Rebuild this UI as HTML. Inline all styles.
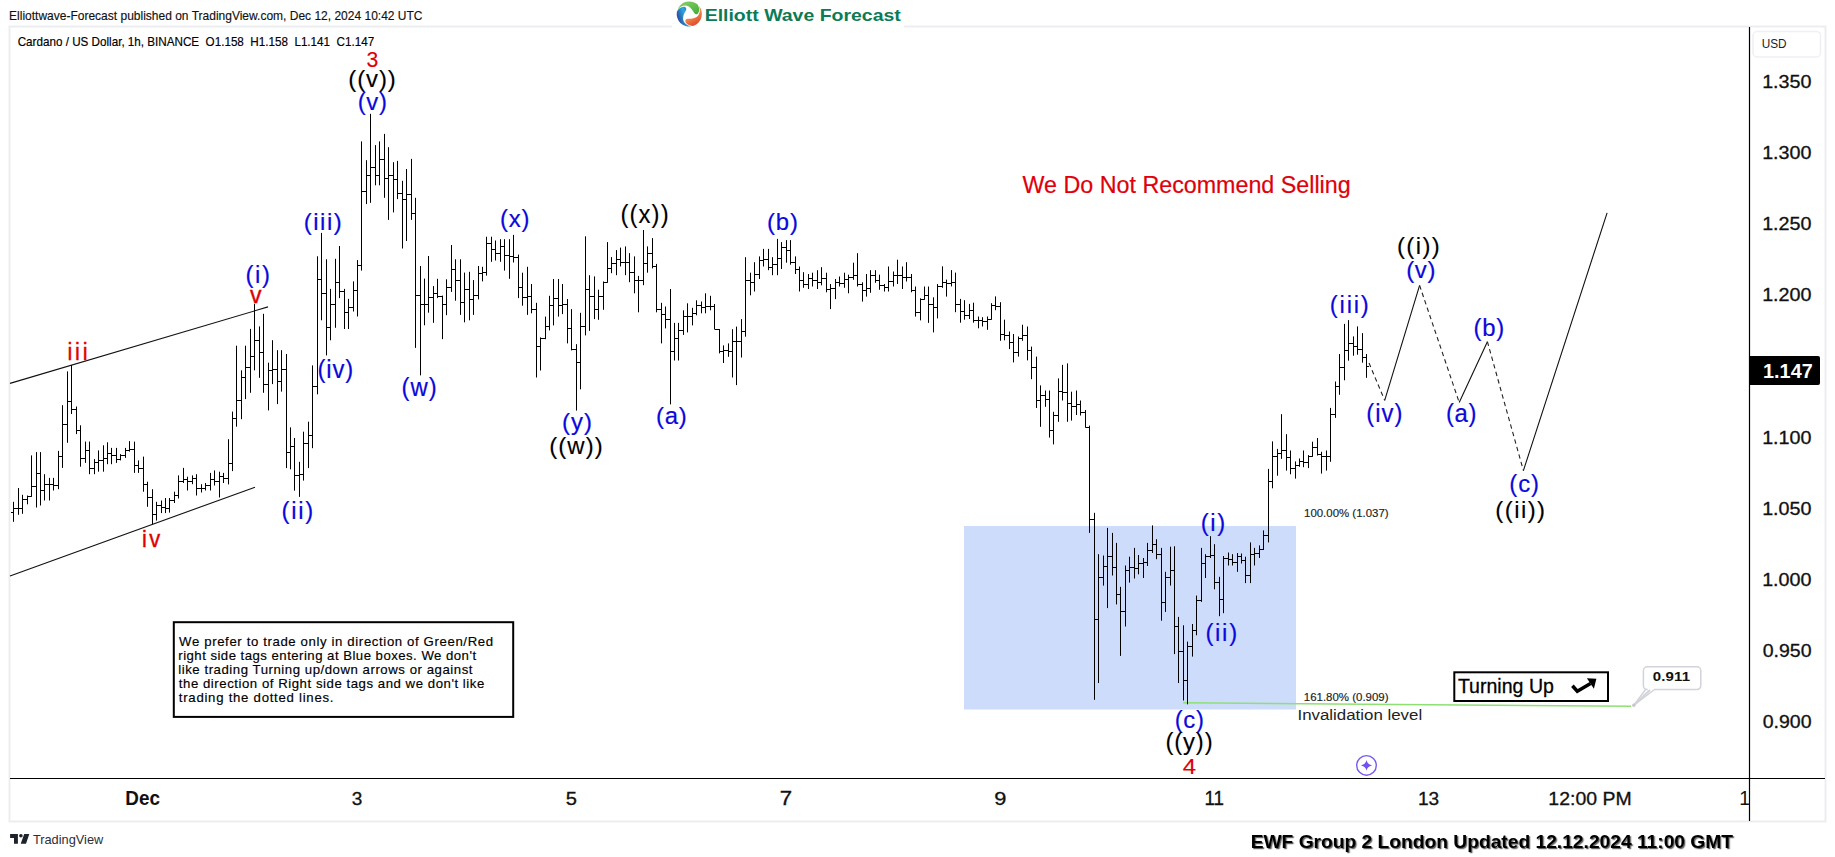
<!DOCTYPE html>
<html lang="en"><head><meta charset="utf-8"><title>ADAUSD 1h Elliott Wave chart</title>
<style>html,body{margin:0;padding:0;background:#fff}body{width:1835px;height:857px;overflow:hidden}svg{display:block}text{font-family:"Liberation Sans", "DejaVu Sans", sans-serif}</style></head><body>
<svg width="1835" height="857" viewBox="0 0 1835 857">
<defs><filter id="sh" x="-5%" y="-30%" width="110%" height="180%"><feDropShadow dx="1.2" dy="1.2" stdDeviation="0.7" flood-color="#000" flood-opacity="0.6"/></filter><linearGradient id="gG" x1="0" y1="0" x2="1" y2="1"><stop offset="0" stop-color="#8fd36a"/><stop offset="1" stop-color="#3fae3a"/></linearGradient><linearGradient id="gO" x1="1" y1="0" x2="0" y2="1"><stop offset="0" stop-color="#d9351f"/><stop offset="0.6" stop-color="#f58a4e"/><stop offset="1" stop-color="#f23c17"/></linearGradient><linearGradient id="gB" x1="0" y1="1" x2="0.3" y2="0"><stop offset="0" stop-color="#2b6cb4"/><stop offset="0.5" stop-color="#2fa5de"/><stop offset="1" stop-color="#2a57a8"/></linearGradient></defs>
<rect width="1835" height="857" fill="#fff"/>
<rect x="9.5" y="26.5" width="1816" height="795" fill="none" stroke="#ebecef" stroke-width="1.8"/>
<rect x="672" y="0" width="232" height="30" fill="#fff"/>
<g transform="translate(689.3 14)"><path d="M-11.84 -4.31A12.6 12.6 0 0 1 8.1 -9.65C9.3 -8 9.9 -6 9.8 -4C9.7 -2.2 9.2 -1 8.4 -0.3C7.3 0.6 5.8 0.4 4.9 -1C3.5 -3.5 2 -6 -1 -7.8C-4 -9.3 -8.5 -8.3 -11.84 -4.31Z" fill="url(#gG)"/><path d="M-11.84 -4.31A12.6 12.6 0 0 1 8.1 -9.65C9.3 -8 9.9 -6 9.8 -4C9.7 -2.2 9.2 -1 8.4 -0.3C7.3 0.6 5.8 0.4 4.9 -1C3.5 -3.5 2 -6 -1 -7.8C-4 -9.3 -8.5 -8.3 -11.84 -4.31Z" fill="url(#gO)" transform="rotate(120)"/><path d="M-11.84 -4.31A12.6 12.6 0 0 1 8.1 -9.65C9.3 -8 9.9 -6 9.8 -4C9.7 -2.2 9.2 -1 8.4 -0.3C7.3 0.6 5.8 0.4 4.9 -1C3.5 -3.5 2 -6 -1 -7.8C-4 -9.3 -8.5 -8.3 -11.84 -4.31Z" fill="url(#gB)" transform="rotate(240)"/></g>
<rect x="964" y="526" width="332" height="183.5" fill="#cddcfb"/>
<path d="M1183 702.8L1631 706.3" stroke="#8ee073" stroke-width="1.5" fill="none"/>
<path d="M10 778.5H1825M1749.5 27V821" stroke="#000" stroke-width="1.2" fill="none"/>
<path d="M10 383.4L268 306.9M10 576L255 487.2" stroke="#111" stroke-width="1.1" fill="none"/>
<path d="M13.5 501.8V521.8M13.5 508.5h2.5M13.5 512.5h-2.5M18.5 488.0V514.8M18.5 508.5h2.5M18.5 508.5h-2.5M22.5 494.8V513.8M22.5 499.5h2.5M22.5 508.5h-2.5M27.5 495.5V504.3M27.5 496.5h2.5M27.5 499.5h-2.5M31.5 455.4V496.8M31.5 486.5h2.5M31.5 496.5h-2.5M36.5 452.1V507.5M36.5 473.5h2.5M36.5 486.5h-2.5M40.5 452.1V505.5M40.5 490.5h2.5M40.5 473.5h-2.5M44.5 474.2V500.5M44.5 484.5h2.5M44.5 490.5h-2.5M49.5 477.9V500.5M49.5 484.5h2.5M49.5 484.5h-2.5M53.5 477.9V490.5M53.5 485.5h2.5M53.5 484.5h-2.5M58.5 450.9V489.2M58.5 456.5h2.5M58.5 485.5h-2.5M62.5 405.2V467.9M62.5 424.5h2.5M62.5 456.5h-2.5M67.5 371.4V442.8M67.5 401.5h2.5M67.5 424.5h-2.5M71.5 365.1V414.0M71.5 409.5h2.5M71.5 401.5h-2.5M76.5 406.5V434.1M76.5 430.5h2.5M76.5 409.5h-2.5M80.5 425.3V466.7M80.5 458.5h2.5M80.5 430.5h-2.5M85.5 441.6V462.9M85.5 450.5h2.5M85.5 458.5h-2.5M89.5 441.6V474.2M89.5 468.5h2.5M89.5 450.5h-2.5M94.5 459.1V474.2M94.5 462.5h2.5M94.5 468.5h-2.5M98.5 450.4V471.7M98.5 460.5h2.5M98.5 462.5h-2.5M103.5 445.3V471.7M103.5 458.5h2.5M103.5 460.5h-2.5M107.5 442.3V464.2M107.5 453.5h2.5M107.5 458.5h-2.5M111.5 447.9V464.2M111.5 455.5h2.5M111.5 453.5h-2.5M116.5 447.9V462.9M116.5 459.5h2.5M116.5 455.5h-2.5M120.5 454.1V460.4M120.5 455.5h2.5M120.5 459.5h-2.5M125.5 447.9V457.9M125.5 450.5h2.5M125.5 455.5h-2.5M129.5 441.1V451.6M129.5 449.5h2.5M129.5 450.5h-2.5M134.5 441.6V472.9M134.5 465.5h2.5M134.5 449.5h-2.5M138.5 460.4V472.9M138.5 468.5h2.5M138.5 465.5h-2.5M143.5 456.6V491.7M143.5 484.5h2.5M143.5 468.5h-2.5M147.5 481.7V506.8M147.5 497.5h2.5M147.5 484.5h-2.5M152.5 489.2V524.3M152.5 514.5h2.5M152.5 497.5h-2.5M156.5 501.8V520.6M156.5 505.5h2.5M156.5 514.5h-2.5M161.5 500.5V513.1M161.5 507.5h2.5M161.5 505.5h-2.5M165.5 498.0V513.1M165.5 508.5h2.5M165.5 507.5h-2.5M169.5 498.0V512.6M169.5 500.5h2.5M169.5 508.5h-2.5M174.5 491.7V503.0M174.5 495.5h2.5M174.5 500.5h-2.5M178.5 475.4V498.5M178.5 481.5h2.5M178.5 495.5h-2.5M183.5 467.9V483.0M183.5 479.5h2.5M183.5 481.5h-2.5M187.5 476.7V490.5M187.5 481.5h2.5M187.5 479.5h-2.5M192.5 475.4V484.2M192.5 478.5h2.5M192.5 481.5h-2.5M196.5 474.2V495.5M196.5 488.5h2.5M196.5 478.5h-2.5M201.5 484.2V492.5M201.5 488.5h2.5M201.5 488.5h-2.5M205.5 483.0V490.5M205.5 485.5h2.5M205.5 488.5h-2.5M210.5 472.9V490.5M210.5 479.5h2.5M210.5 485.5h-2.5M214.5 470.4V485.5M214.5 481.5h2.5M214.5 479.5h-2.5M219.5 471.7V497.5M219.5 476.5h2.5M219.5 481.5h-2.5M223.5 472.9V483.0M223.5 478.5h2.5M223.5 476.5h-2.5M228.5 439.2V484.4M228.5 463.5h2.5M228.5 478.5h-2.5M232.5 411.6V471.1M232.5 418.5h2.5M232.5 463.5h-2.5M236.5 345.7V426.7M236.5 400.5h2.5M236.5 418.5h-2.5M241.5 370.3V419.2M241.5 377.5h2.5M241.5 400.5h-2.5M245.5 345.7V399.1M245.5 367.5h2.5M245.5 377.5h-2.5M250.5 328.9V392.8M250.5 356.5h2.5M250.5 367.5h-2.5M254.5 303.8V370.3M254.5 340.5h2.5M254.5 356.5h-2.5M259.5 326.4V377.8M259.5 352.5h2.5M259.5 340.5h-2.5M263.5 313.8V392.8M263.5 384.5h2.5M263.5 352.5h-2.5M268.5 362.7V410.4M268.5 370.5h2.5M268.5 384.5h-2.5M272.5 340.2V384.1M272.5 369.5h2.5M272.5 370.5h-2.5M277.5 350.2V404.1M277.5 381.5h2.5M277.5 369.5h-2.5M281.5 350.2V391.6M281.5 369.5h2.5M281.5 381.5h-2.5M286.5 354.0V468.1M286.5 452.5h2.5M286.5 369.5h-2.5M290.5 427.4V469.3M290.5 446.5h2.5M290.5 452.5h-2.5M294.5 438.0V490.7M294.5 475.5h2.5M294.5 446.5h-2.5M299.5 461.8V496.9M299.5 474.5h2.5M299.5 475.5h-2.5M303.5 431.7V480.6M303.5 443.5h2.5M303.5 474.5h-2.5M308.5 421.7V468.1M308.5 435.5h2.5M308.5 443.5h-2.5M312.5 365.4V448.2M312.5 386.5h2.5M312.5 435.5h-2.5M317.5 256.3V394.3M317.5 279.5h2.5M317.5 386.5h-2.5M321.5 232.9V320.3M321.5 293.5h2.5M321.5 279.5h-2.5M326.5 259.3V355.4M326.5 327.5h2.5M326.5 293.5h-2.5M330.5 288.9V340.3M330.5 304.5h2.5M330.5 327.5h-2.5M335.5 258.8V327.8M335.5 282.5h2.5M335.5 304.5h-2.5M339.5 246.0V298.1M339.5 291.5h2.5M339.5 282.5h-2.5M344.5 288.9V329.0M344.5 312.5h2.5M344.5 291.5h-2.5M348.5 298.9V329.0M348.5 307.5h2.5M348.5 312.5h-2.5M353.5 281.4V311.5M353.5 290.5h2.5M353.5 307.5h-2.5M357.5 260.1V316.5M357.5 265.5h2.5M357.5 290.5h-2.5M361.5 141.4V270.6M361.5 191.5h2.5M361.5 265.5h-2.5M366.5 160.2V204.1M366.5 175.5h2.5M366.5 191.5h-2.5M370.5 113.8V202.8M370.5 167.5h2.5M370.5 175.5h-2.5M375.5 145.1V185.3M375.5 175.5h2.5M375.5 167.5h-2.5M379.5 141.4V185.3M379.5 159.5h2.5M379.5 175.5h-2.5M384.5 133.9V197.8M384.5 178.5h2.5M384.5 159.5h-2.5M388.5 147.2V219.9M388.5 175.5h2.5M388.5 178.5h-2.5M393.5 162.2V212.4M393.5 179.5h2.5M393.5 175.5h-2.5M397.5 160.9V199.1M397.5 193.5h2.5M397.5 179.5h-2.5M402.5 180.8V248.5M402.5 199.5h2.5M402.5 193.5h-2.5M406.5 169.0V241.0M406.5 194.5h2.5M406.5 199.5h-2.5M411.5 158.9V219.9M411.5 213.5h2.5M411.5 194.5h-2.5M415.5 197.8V347.9M415.5 295.5h2.5M415.5 213.5h-2.5M420.5 266.0V375.4M420.5 304.5h2.5M420.5 295.5h-2.5M424.5 278.6V325.3M424.5 304.5h2.5M424.5 304.5h-2.5M428.5 256.0V312.7M428.5 297.5h2.5M428.5 304.5h-2.5M433.5 286.1V322.8M433.5 293.5h2.5M433.5 297.5h-2.5M437.5 278.8V298.1M437.5 296.5h2.5M437.5 293.5h-2.5M442.5 295.6V339.1M442.5 304.5h2.5M442.5 296.5h-2.5M446.5 279.3V315.2M446.5 287.5h2.5M446.5 304.5h-2.5M451.5 245.0V291.9M451.5 269.5h2.5M451.5 287.5h-2.5M455.5 259.3V300.7M455.5 280.5h2.5M455.5 269.5h-2.5M460.5 259.3V314.9M460.5 302.5h2.5M460.5 280.5h-2.5M464.5 272.6V322.3M464.5 289.5h2.5M464.5 302.5h-2.5M469.5 271.8V320.3M469.5 299.5h2.5M469.5 289.5h-2.5M473.5 280.1V314.9M473.5 295.5h2.5M473.5 299.5h-2.5M478.5 266.0V299.4M478.5 273.5h2.5M478.5 295.5h-2.5M482.5 266.8V281.4M482.5 272.5h2.5M482.5 273.5h-2.5M486.5 236.7V275.6M486.5 243.5h2.5M486.5 272.5h-2.5M491.5 236.7V261.8M491.5 249.5h2.5M491.5 243.5h-2.5M495.5 240.5V260.5M495.5 253.5h2.5M495.5 249.5h-2.5M500.5 239.2V261.8M500.5 246.5h2.5M500.5 253.5h-2.5M504.5 239.2V270.6M504.5 255.5h2.5M504.5 246.5h-2.5M509.5 239.2V278.8M509.5 256.5h2.5M509.5 255.5h-2.5M513.5 234.9V262.5M513.5 257.5h2.5M513.5 256.5h-2.5M518.5 254.6V298.1M518.5 287.5h2.5M518.5 257.5h-2.5M522.5 272.7V305.7M522.5 297.5h2.5M522.5 287.5h-2.5M527.5 266.8V314.9M527.5 296.5h2.5M527.5 297.5h-2.5M531.5 284.0V313.3M531.5 309.5h2.5M531.5 296.5h-2.5M536.5 302.8V377.5M536.5 346.5h2.5M536.5 309.5h-2.5M540.5 337.4V370.5M540.5 338.5h2.5M540.5 346.5h-2.5M545.5 316.6V339.2M545.5 326.5h2.5M545.5 338.5h-2.5M549.5 295.8V330.4M549.5 305.5h2.5M549.5 326.5h-2.5M553.5 279.0V325.4M553.5 298.5h2.5M553.5 305.5h-2.5M558.5 279.0V316.6M558.5 305.5h2.5M558.5 298.5h-2.5M562.5 284.0V314.1M562.5 304.5h2.5M562.5 305.5h-2.5M567.5 299.0V343.4M567.5 328.5h2.5M567.5 304.5h-2.5M571.5 309.1V350.4M571.5 349.5h2.5M571.5 328.5h-2.5M576.5 344.2V410.6M576.5 362.5h2.5M576.5 349.5h-2.5M580.5 312.8V389.3M580.5 326.5h2.5M580.5 362.5h-2.5M585.5 236.3V335.4M585.5 289.5h2.5M585.5 326.5h-2.5M589.5 275.2V330.9M589.5 296.5h2.5M589.5 289.5h-2.5M594.5 276.4V319.1M594.5 309.5h2.5M594.5 296.5h-2.5M598.5 289.7V319.8M598.5 296.5h2.5M598.5 309.5h-2.5M603.5 281.5V309.8M603.5 282.5h2.5M603.5 296.5h-2.5M607.5 242.1V282.7M607.5 268.5h2.5M607.5 282.5h-2.5M611.5 257.1V273.2M611.5 263.5h2.5M611.5 268.5h-2.5M616.5 250.1V275.2M616.5 259.5h2.5M616.5 263.5h-2.5M620.5 247.6V266.4M620.5 262.5h2.5M620.5 259.5h-2.5M625.5 246.4V275.2M625.5 262.5h2.5M625.5 262.5h-2.5M629.5 253.1V282.2M629.5 272.5h2.5M629.5 262.5h-2.5M634.5 256.4V293.3M634.5 280.5h2.5M634.5 272.5h-2.5M638.5 275.9V312.3M638.5 280.5h2.5M638.5 280.5h-2.5M643.5 230.0V285.2M643.5 263.5h2.5M643.5 280.5h-2.5M647.5 246.4V272.7M647.5 253.5h2.5M647.5 263.5h-2.5M652.5 238.1V268.4M652.5 266.5h2.5M652.5 253.5h-2.5M656.5 263.9V312.3M656.5 309.5h2.5M656.5 266.5h-2.5M661.5 302.8V343.4M661.5 314.5h2.5M661.5 309.5h-2.5M665.5 306.5V328.4M665.5 319.5h2.5M665.5 314.5h-2.5M670.5 289.0V404.4M670.5 351.5h2.5M670.5 319.5h-2.5M674.5 322.9V360.5M674.5 338.5h2.5M674.5 351.5h-2.5M678.5 322.9V360.5M678.5 330.5h2.5M678.5 338.5h-2.5M683.5 310.3V334.9M683.5 316.5h2.5M683.5 330.5h-2.5M687.5 303.3V332.4M687.5 316.5h2.5M687.5 316.5h-2.5M692.5 307.8V325.4M692.5 313.5h2.5M692.5 316.5h-2.5M696.5 300.3V315.3M696.5 305.5h2.5M696.5 313.5h-2.5M701.5 301.5V313.3M701.5 307.5h2.5M701.5 305.5h-2.5M705.5 293.3V313.3M705.5 306.5h2.5M705.5 307.5h-2.5M710.5 295.8V310.3M710.5 306.5h2.5M710.5 306.5h-2.5M714.5 304.0V329.1M714.5 329.5h2.5M714.5 306.5h-2.5M719.5 329.1V353.4M719.5 351.5h2.5M719.5 329.5h-2.5M723.5 345.4V363.0M723.5 350.5h2.5M723.5 351.5h-2.5M728.5 343.4V356.8M728.5 351.5h2.5M728.5 350.5h-2.5M732.5 329.2V377.5M732.5 341.5h2.5M732.5 351.5h-2.5M736.5 326.6V385.1M736.5 341.5h2.5M736.5 341.5h-2.5M741.5 319.1V357.5M741.5 331.5h2.5M741.5 341.5h-2.5M745.5 257.2V336.7M745.5 280.5h2.5M745.5 331.5h-2.5M750.5 272.7V295.3M750.5 282.5h2.5M750.5 280.5h-2.5M754.5 262.2V291.5M754.5 274.5h2.5M754.5 282.5h-2.5M759.5 256.4V279.0M759.5 260.5h2.5M759.5 274.5h-2.5M763.5 248.9V266.5M763.5 259.5h2.5M763.5 260.5h-2.5M768.5 248.9V270.2M768.5 267.5h2.5M768.5 259.5h-2.5M772.5 257.2V275.2M772.5 264.5h2.5M772.5 267.5h-2.5M777.5 238.9V275.2M777.5 258.5h2.5M777.5 264.5h-2.5M781.5 242.1V269.0M781.5 247.5h2.5M781.5 258.5h-2.5M786.5 240.1V262.7M786.5 250.5h2.5M786.5 247.5h-2.5M790.5 240.1V264.7M790.5 262.5h2.5M790.5 250.5h-2.5M795.5 256.4V274.0M795.5 269.5h2.5M795.5 262.5h-2.5M799.5 266.5V291.5M799.5 280.5h2.5M799.5 269.5h-2.5M803.5 272.2V287.8M803.5 284.5h2.5M803.5 280.5h-2.5M808.5 274.0V289.0M808.5 278.5h2.5M808.5 284.5h-2.5M812.5 272.7V286.5M812.5 280.5h2.5M812.5 278.5h-2.5M817.5 270.2V289.0M817.5 282.5h2.5M817.5 280.5h-2.5M821.5 267.2V285.3M821.5 278.5h2.5M821.5 282.5h-2.5M826.5 272.7V292.3M826.5 289.5h2.5M826.5 278.5h-2.5M830.5 284.0V309.1M830.5 288.5h2.5M830.5 289.5h-2.5M835.5 279.0V299.1M835.5 282.5h2.5M835.5 288.5h-2.5M839.5 276.5V286.5M839.5 283.5h2.5M839.5 282.5h-2.5M844.5 272.7V287.8M844.5 279.5h2.5M844.5 283.5h-2.5M848.5 274.7V293.3M848.5 277.5h2.5M848.5 279.5h-2.5M853.5 262.7V279.8M853.5 275.5h2.5M853.5 277.5h-2.5M857.5 253.2V286.5M857.5 284.5h2.5M857.5 275.5h-2.5M862.5 282.3V301.6M862.5 290.5h2.5M862.5 284.5h-2.5M866.5 274.0V296.6M866.5 288.5h2.5M866.5 290.5h-2.5M870.5 270.2V292.8M870.5 275.5h2.5M870.5 288.5h-2.5M875.5 270.2V282.8M875.5 280.5h2.5M875.5 275.5h-2.5M879.5 274.7V289.8M879.5 285.5h2.5M879.5 280.5h-2.5M884.5 284.0V291.5M884.5 287.5h2.5M884.5 285.5h-2.5M888.5 266.5V291.5M888.5 281.5h2.5M888.5 287.5h-2.5M893.5 271.5V286.5M893.5 275.5h2.5M893.5 281.5h-2.5M897.5 259.7V284.0M897.5 275.5h2.5M897.5 275.5h-2.5M902.5 266.5V289.0M902.5 277.5h2.5M902.5 275.5h-2.5M906.5 262.2V281.5M906.5 277.5h2.5M906.5 277.5h-2.5M911.5 274.0V292.3M911.5 290.5h2.5M911.5 277.5h-2.5M915.5 286.5V316.6M915.5 312.5h2.5M915.5 290.5h-2.5M920.5 298.3V320.4M920.5 299.5h2.5M920.5 312.5h-2.5M924.5 286.5V299.8M924.5 295.5h2.5M924.5 299.5h-2.5M928.5 286.5V322.9M928.5 304.5h2.5M928.5 295.5h-2.5M933.5 297.3V332.4M933.5 307.5h2.5M933.5 304.5h-2.5M937.5 284.0V318.4M937.5 286.5h2.5M937.5 307.5h-2.5M942.5 266.3V287.8M942.5 282.5h2.5M942.5 286.5h-2.5M946.5 279.6V296.6M946.5 283.5h2.5M946.5 282.5h-2.5M951.5 270.1V286.4M951.5 282.5h2.5M951.5 283.5h-2.5M955.5 272.6V312.2M955.5 304.5h2.5M955.5 282.5h-2.5M960.5 298.9V322.7M960.5 311.5h2.5M960.5 304.5h-2.5M964.5 300.2V319.7M964.5 315.5h2.5M964.5 311.5h-2.5M969.5 303.9V319.0M969.5 310.5h2.5M969.5 315.5h-2.5M973.5 302.7V322.7M973.5 320.5h2.5M973.5 310.5h-2.5M978.5 316.5V328.3M978.5 320.5h2.5M978.5 320.5h-2.5M982.5 317.2V326.5M982.5 321.5h2.5M982.5 320.5h-2.5M987.5 316.5V329.8M987.5 319.5h2.5M987.5 321.5h-2.5M991.5 303.2V319.7M991.5 305.5h2.5M991.5 319.5h-2.5M995.5 296.4V310.2M995.5 306.5h2.5M995.5 305.5h-2.5M1000.5 302.2V340.8M1000.5 334.5h2.5M1000.5 306.5h-2.5M1004.5 319.7V340.3M1004.5 335.5h2.5M1004.5 334.5h-2.5M1009.5 331.5V349.1M1009.5 342.5h2.5M1009.5 335.5h-2.5M1013.5 334.0V362.4M1013.5 352.5h2.5M1013.5 342.5h-2.5M1018.5 336.5V356.6M1018.5 338.5h2.5M1018.5 352.5h-2.5M1022.5 324.7V340.8M1022.5 335.5h2.5M1022.5 338.5h-2.5M1027.5 326.5V360.4M1027.5 350.5h2.5M1027.5 335.5h-2.5M1031.5 346.6V379.2M1031.5 367.5h2.5M1031.5 350.5h-2.5M1036.5 356.6V408.0M1036.5 400.5h2.5M1036.5 367.5h-2.5M1040.5 385.4V426.8M1040.5 395.5h2.5M1040.5 400.5h-2.5M1045.5 390.5V406.8M1045.5 399.5h2.5M1045.5 395.5h-2.5M1049.5 390.5V437.6M1049.5 430.5h2.5M1049.5 399.5h-2.5M1053.5 411.8V444.4M1053.5 415.5h2.5M1053.5 430.5h-2.5M1058.5 378.4V421.8M1058.5 391.5h2.5M1058.5 415.5h-2.5M1062.5 364.9V400.5M1062.5 392.5h2.5M1062.5 391.5h-2.5M1067.5 363.4V421.8M1067.5 403.5h2.5M1067.5 392.5h-2.5M1071.5 391.7V420.6M1071.5 406.5h2.5M1071.5 403.5h-2.5M1076.5 390.5V415.0M1076.5 404.5h2.5M1076.5 406.5h-2.5M1080.5 400.5V415.5M1080.5 412.5h2.5M1080.5 404.5h-2.5M1085.5 410.0V427.6M1085.5 427.5h2.5M1085.5 412.5h-2.5M1089.5 425.6V532.9M1089.5 519.5h2.5M1089.5 427.5h-2.5M1094.5 512.8V699.8M1094.5 619.5h2.5M1094.5 519.5h-2.5M1098.5 554.2V683.0M1098.5 577.5h2.5M1098.5 619.5h-2.5M1103.5 555.5V585.6M1103.5 566.5h2.5M1103.5 577.5h-2.5M1107.5 527.9V608.1M1107.5 556.5h2.5M1107.5 566.5h-2.5M1112.5 532.9V575.5M1112.5 567.5h2.5M1112.5 556.5h-2.5M1116.5 542.9V604.4M1116.5 594.5h2.5M1116.5 567.5h-2.5M1120.5 586.8V655.9M1120.5 611.5h2.5M1120.5 594.5h-2.5M1125.5 565.5V626.5M1125.5 570.5h2.5M1125.5 611.5h-2.5M1129.5 556.7V582.6M1129.5 567.5h2.5M1129.5 570.5h-2.5M1134.5 547.9V578.5M1134.5 568.5h2.5M1134.5 567.5h-2.5M1138.5 555.0V574.3M1138.5 563.5h2.5M1138.5 568.5h-2.5M1143.5 558.0V578.0M1143.5 562.5h2.5M1143.5 563.5h-2.5M1147.5 542.9V566.0M1147.5 550.5h2.5M1147.5 562.5h-2.5M1152.5 525.4V553.0M1152.5 544.5h2.5M1152.5 550.5h-2.5M1156.5 539.2V559.2M1156.5 554.5h2.5M1156.5 544.5h-2.5M1161.5 547.9V620.7M1161.5 602.5h2.5M1161.5 554.5h-2.5M1165.5 571.8V611.9M1165.5 577.5h2.5M1165.5 602.5h-2.5M1170.5 546.7V585.6M1170.5 570.5h2.5M1170.5 577.5h-2.5M1174.5 546.3V654.1M1174.5 626.5h2.5M1174.5 570.5h-2.5M1178.5 616.9V683.0M1178.5 651.5h2.5M1178.5 626.5h-2.5M1183.5 625.3V700.5M1183.5 680.5h2.5M1183.5 651.5h-2.5M1187.5 641.6V704.3M1187.5 646.5h2.5M1187.5 680.5h-2.5M1192.5 624.0V656.6M1192.5 630.5h2.5M1192.5 646.5h-2.5M1196.5 595.6V635.3M1196.5 600.5h2.5M1196.5 630.5h-2.5M1201.5 547.9V601.9M1201.5 563.5h2.5M1201.5 600.5h-2.5M1205.5 554.2V578.0M1205.5 556.5h2.5M1205.5 563.5h-2.5M1210.5 536.2V558.0M1210.5 555.5h2.5M1210.5 556.5h-2.5M1214.5 544.2V589.3M1214.5 582.5h2.5M1214.5 555.5h-2.5M1219.5 576.8V616.2M1219.5 599.5h2.5M1219.5 582.5h-2.5M1223.5 556.0V613.2M1223.5 558.5h2.5M1223.5 599.5h-2.5M1228.5 552.5V565.5M1228.5 559.5h2.5M1228.5 558.5h-2.5M1232.5 554.2V565.5M1232.5 562.5h2.5M1232.5 559.5h-2.5M1237.5 553.0V571.8M1237.5 556.5h2.5M1237.5 562.5h-2.5M1241.5 553.5V563.5M1241.5 560.5h2.5M1241.5 556.5h-2.5M1245.5 556.7V583.1M1245.5 575.5h2.5M1245.5 560.5h-2.5M1250.5 542.4V583.1M1250.5 554.5h2.5M1250.5 575.5h-2.5M1254.5 547.9V565.5M1254.5 553.5h2.5M1254.5 554.5h-2.5M1259.5 545.4V558.0M1259.5 549.5h2.5M1259.5 553.5h-2.5M1263.5 530.4V550.0M1263.5 535.5h2.5M1263.5 549.5h-2.5M1268.5 468.9V542.4M1268.5 481.5h2.5M1268.5 535.5h-2.5M1272.5 441.4V488.3M1272.5 456.5h2.5M1272.5 481.5h-2.5M1277.5 448.9V475.7M1277.5 453.5h2.5M1277.5 456.5h-2.5M1281.5 414.2V458.9M1281.5 450.5h2.5M1281.5 453.5h-2.5M1286.5 434.2V470.6M1286.5 457.5h2.5M1286.5 450.5h-2.5M1290.5 450.5V474.3M1290.5 468.5h2.5M1290.5 457.5h-2.5M1295.5 461.4V478.6M1295.5 465.5h2.5M1295.5 468.5h-2.5M1299.5 458.5V466.8M1299.5 461.5h2.5M1299.5 465.5h-2.5M1303.5 450.5V467.2M1303.5 462.5h2.5M1303.5 461.5h-2.5M1308.5 455.1V468.1M1308.5 456.5h2.5M1308.5 462.5h-2.5M1312.5 441.7V456.8M1312.5 447.5h2.5M1312.5 456.5h-2.5M1317.5 438.0V455.5M1317.5 454.5h2.5M1317.5 447.5h-2.5M1321.5 451.8V473.6M1321.5 456.5h2.5M1321.5 454.5h-2.5M1326.5 450.5V470.6M1326.5 456.5h2.5M1326.5 456.5h-2.5M1330.5 407.9V461.8M1330.5 414.5h2.5M1330.5 456.5h-2.5M1335.5 381.5V417.9M1335.5 386.5h2.5M1335.5 414.5h-2.5M1339.5 354.0V394.8M1339.5 367.5h2.5M1339.5 386.5h-2.5M1344.5 323.9V380.3M1344.5 350.5h2.5M1344.5 367.5h-2.5M1348.5 320.1V360.7M1348.5 343.5h2.5M1348.5 350.5h-2.5M1353.5 336.4V355.7M1353.5 346.5h2.5M1353.5 343.5h-2.5M1357.5 326.4V354.7M1357.5 349.5h2.5M1357.5 346.5h-2.5M1362.5 333.1V362.7M1362.5 357.5h2.5M1362.5 349.5h-2.5M1366.5 354.0V377.8M1366.5 366.5h2.5M1366.5 357.5h-2.5" stroke="#000" stroke-width="1" fill="none"/>
<path d="M1384.7 400.4L1419.6 285.4M1459.2 402.4L1487.4 341.7M1523.4 470.6L1607.1 212.8" stroke="#111" stroke-width="1.1" fill="none"/>
<path d="M1369 363L1384.7 400.4M1419.6 285.4L1459.2 402.4M1487.4 341.7L1523.4 470.6" stroke="#222" stroke-width="1.1" stroke-dasharray="4.4 3.4" fill="none"/>
<rect x="1753" y="31.5" width="67.5" height="25.5" rx="4" fill="#fff" stroke="#eef0f4" stroke-width="1.5"/>
<path d="M1750 356H1818a2 2 0 0 1 2 2V383a2 2 0 0 1 -2 2H1750Z" fill="#000"/>
<rect x="173.8" y="622.2" width="339.4" height="94.7" fill="#fff" stroke="#000" stroke-width="2"/>
<rect x="1454.3" y="672.3" width="153.7" height="28.7" fill="#fff" stroke="#000" stroke-width="2"/>
<path d="M1572.4 685.8L1577.3 691.2L1590.5 683.6" stroke="#000" stroke-width="3.5" fill="none" stroke-linejoin="miter"/><path d="M1586.9 678.2L1596.4 678.8L1593.9 688.7Z" fill="#000"/>
<path d="M1647.2 666.8H1697a3.8 3.8 0 0 1 3.8 3.8V685.7a3.8 3.8 0 0 1 -3.8 3.8H1654.6L1633.9 705.2L1645.6 689.5H1647.2a3.8 3.8 0 0 1 -3.8 -3.8V670.6a3.8 3.8 0 0 1 3.8 -3.8Z" fill="#fff" stroke="#d2d4d9" stroke-width="1.5" stroke-linejoin="round"/><path d="M1650 690L1634 705" stroke="#d2d4d9" stroke-width="2"/><circle cx="1633.8" cy="705.3" r="1.7" fill="#c6c8ce"/>
<circle cx="1366.5" cy="765.4" r="9.8" fill="#fff" stroke="#7a58f2" stroke-width="1.4"/><path d="M1366.5 760Q1367.3 764.6 1372 765.4Q1367.3 766.2 1366.5 770.8Q1365.7 766.2 1361 765.4Q1365.7 764.6 1366.5 760Z" fill="#7351f5"/>
<path d="M10.1 834H17.9V843.7H14V837.9H10.1ZM24.2 834H29.3L26 843.7H20.7Z" fill="#1e222d"/><circle cx="20.9" cy="835.8" r="1.8" fill="#1e222d"/>
<text transform="translate(245.44 282.96) scale(1.0400 1.0605)" font-size="23" fill="#0c08dc" letter-spacing="1.538" stroke="#0c08dc" stroke-width="0.18">(i)</text>
<text transform="translate(281.44 518.67) scale(1.0400 1.0791)" font-size="23" fill="#0c08dc" letter-spacing="1.699" stroke="#0c08dc" stroke-width="0.18">(ii)</text>
<text transform="translate(303.64 229.81) scale(1.0400 1.0512)" font-size="23" fill="#0c08dc" letter-spacing="1.524" stroke="#0c08dc" stroke-width="0.18">(iii)</text>
<text transform="translate(317.54 378.03) scale(1.0400 1.0884)" font-size="23" fill="#0c08dc" letter-spacing="0.782" stroke="#0c08dc" stroke-width="0.18">(iv)</text>
<text transform="translate(357.64 109.52) scale(1.0400 1.0279)" font-size="23" fill="#0c08dc" letter-spacing="0.644" stroke="#0c08dc" stroke-width="0.18">(v)</text>
<text transform="translate(401.54 395.63) scale(1.0400 1.0884)" font-size="23" fill="#0c08dc" letter-spacing="0.933" stroke="#0c08dc" stroke-width="0.18">(w)</text>
<text transform="translate(500.04 227.14) scale(1.0400 1.0651)" font-size="23" fill="#0c08dc" letter-spacing="0.788" stroke="#0c08dc" stroke-width="0.18">(x)</text>
<text transform="translate(562.04 429.61) scale(1.0400 1.0512)" font-size="23" fill="#0c08dc" letter-spacing="0.981" stroke="#0c08dc" stroke-width="0.18">(y)</text>
<text transform="translate(655.94 423.61) scale(1.0400 1.0512)" font-size="23" fill="#0c08dc" letter-spacing="0.788" stroke="#0c08dc" stroke-width="0.18">(a)</text>
<text transform="translate(766.94 230.25) scale(1.0400 1.0419)" font-size="23" fill="#0c08dc" letter-spacing="0.885" stroke="#0c08dc" stroke-width="0.18">(b)</text>
<text transform="translate(1174.74 727.54) scale(1.0400 1.0233)" font-size="23" fill="#0c08dc" letter-spacing="0.596" stroke="#0c08dc" stroke-width="0.18">(c)</text>
<text transform="translate(1200.74 530.60) scale(1.0400 1.0326)" font-size="23" fill="#0c08dc" letter-spacing="1.538" stroke="#0c08dc" stroke-width="0.18">(i)</text>
<text transform="translate(1205.44 640.77) scale(1.0400 1.0372)" font-size="23" fill="#0c08dc" letter-spacing="1.635" stroke="#0c08dc" stroke-width="0.18">(ii)</text>
<text transform="translate(1329.84 312.73) scale(1.0400 1.0047)" font-size="23" fill="#0c08dc" letter-spacing="1.692" stroke="#0c08dc" stroke-width="0.18">(iii)</text>
<text transform="translate(1366.24 421.93) scale(1.0400 1.0884)" font-size="23" fill="#0c08dc" letter-spacing="1.006" stroke="#0c08dc" stroke-width="0.18">(iv)</text>
<text transform="translate(1406.14 277.61) scale(1.0400 1.0512)" font-size="23" fill="#0c08dc" letter-spacing="0.740" stroke="#0c08dc" stroke-width="0.18">(v)</text>
<text transform="translate(1445.94 421.93) scale(1.0400 1.0884)" font-size="23" fill="#0c08dc" letter-spacing="0.644" stroke="#0c08dc" stroke-width="0.18">(a)</text>
<text transform="translate(1473.54 335.70) scale(1.0400 1.0326)" font-size="23" fill="#0c08dc" letter-spacing="0.644" stroke="#0c08dc" stroke-width="0.18">(b)</text>
<text transform="translate(1509.24 491.78) scale(1.0400 1.0558)" font-size="23" fill="#0c08dc" letter-spacing="0.933" stroke="#0c08dc" stroke-width="0.18">(c)</text>
<text transform="translate(348.34 86.81) scale(1.0400 1.0512)" font-size="23" fill="#000" letter-spacing="0.861" stroke="#000" stroke-width="0.12">((v))</text>
<text transform="translate(620.44 223.45) scale(1.0400 1.0837)" font-size="23" fill="#000" letter-spacing="1.053" stroke="#000" stroke-width="0.12">((x))</text>
<text transform="translate(549.14 454.21) scale(1.0400 1.0512)" font-size="23" fill="#000" letter-spacing="1.077" stroke="#000" stroke-width="0.12">((w))</text>
<text transform="translate(1165.44 750.38) scale(1.0400 1.0558)" font-size="23" fill="#000" letter-spacing="0.813" stroke="#000" stroke-width="0.12">((y))</text>
<text transform="translate(1396.94 253.81) scale(1.0400 1.0512)" font-size="23" fill="#000" letter-spacing="1.356" stroke="#000" stroke-width="0.12">((i))</text>
<text transform="translate(1495.34 517.51) scale(1.0400 1.0512)" font-size="23" fill="#000" letter-spacing="1.400" stroke="#000" stroke-width="0.12">((ii))</text>
<text transform="translate(67.44 359.90) scale(1.0400 1.1607)" font-size="21" fill="#e00000" letter-spacing="2.673" stroke="#e00000" stroke-width="0.35">iii</text>
<text transform="translate(141.94 546.70) scale(1.0400 1.1279)" font-size="21" fill="#e00000" letter-spacing="2.365" stroke="#e00000" stroke-width="0.35">iv</text>
<text transform="translate(250.12 302.60) scale(1.1000 1.1273)" font-size="21" fill="#e00000" stroke="#e00000" stroke-width="0.35">v</text>
<text transform="translate(366.54 66.94) scale(1.0100 1.0533)" font-size="21" fill="#e00000" stroke="#e00000" stroke-width="0.12">3</text>
<text transform="translate(1182.63 774.30) scale(1.1429 1.0345)" font-size="21" fill="#e00000" stroke="#e00000" stroke-width="0.12">4</text>
<text transform="translate(9.04 19.50) scale(0.9611 1.0000)" font-size="12.5" fill="#111" stroke="#111" stroke-width="0.15">Elliottwave-Forecast published on TradingView.com, Dec 12, 2024 10:42 UTC</text>
<text transform="translate(17.70 46.40) scale(0.9339 1.0000)" font-size="12.5" fill="#000" xml:space="preserve" stroke="#000" stroke-width="0.18">Cardano / US Dollar, 1h, BINANCE  O1.158  H1.158  L1.141  C1.147</text>
<text transform="translate(704.65 20.76) scale(1.0822 0.9660)" font-size="18" font-weight="bold" fill="#0b7b57">Elliott Wave Forecast</text>
<text transform="translate(1022.55 193.00) scale(1.0127 1.0000)" font-size="23" fill="#e0000a" stroke="#e0000a" stroke-width="0.2">We Do Not Recommend Selling</text>
<text transform="translate(1761.65 48.24) scale(0.9455 1.0222)" font-size="12.5" fill="#222">USD</text>
<text transform="translate(1762.13 87.85) scale(1.0983 1.0039)" font-size="18" fill="#111" stroke="#111" stroke-width="0.3">1.350</text>
<text transform="translate(1762.13 158.85) scale(1.0983 1.0039)" font-size="18" fill="#111" stroke="#111" stroke-width="0.3">1.300</text>
<text transform="translate(1762.13 229.85) scale(1.0983 1.0039)" font-size="18" fill="#111" stroke="#111" stroke-width="0.3">1.250</text>
<text transform="translate(1762.13 300.85) scale(1.0983 1.0039)" font-size="18" fill="#111" stroke="#111" stroke-width="0.3">1.200</text>
<text transform="translate(1762.13 443.85) scale(1.0983 1.0039)" font-size="18" fill="#111" stroke="#111" stroke-width="0.3">1.100</text>
<text transform="translate(1762.13 514.85) scale(1.0983 1.0039)" font-size="18" fill="#111" stroke="#111" stroke-width="0.3">1.050</text>
<text transform="translate(1762.13 585.85) scale(1.0983 1.0039)" font-size="18" fill="#111" stroke="#111" stroke-width="0.3">1.000</text>
<text transform="translate(1762.69 656.85) scale(1.0857 1.0039)" font-size="18" fill="#111" stroke="#111" stroke-width="0.3">0.950</text>
<text transform="translate(1762.69 727.85) scale(1.0857 1.0039)" font-size="18" fill="#111" stroke="#111" stroke-width="0.3">0.900</text>
<text transform="translate(1762.90 378.10) scale(1.1000 1.0960)" font-size="18" font-weight="bold" fill="#fff" letter-spacing="0.074">1.147</text>
<text transform="translate(125.29 804.73) scale(1.0496 1.0745)" font-size="18" font-weight="bold" fill="#111">Dec</text>
<text transform="translate(351.71 804.53) scale(1.0588 1.0667)" font-size="18" fill="#111" stroke="#111" stroke-width="0.3">3</text>
<text transform="translate(565.86 804.53) scale(1.1176 1.0667)" font-size="18" fill="#111" stroke="#111" stroke-width="0.3">5</text>
<text transform="translate(779.86 804.80) scale(1.2375 1.0880)" font-size="18" fill="#111" stroke="#111" stroke-width="0.3">7</text>
<text transform="translate(994.29 804.53) scale(1.2118 1.0667)" font-size="18" fill="#111" stroke="#111" stroke-width="0.3">9</text>
<text transform="translate(1204.50 804.80) scale(1.0424 1.0880)" font-size="18" fill="#111" stroke="#111" stroke-width="0.3">11</text>
<text transform="translate(1417.97 804.53) scale(1.0611 1.0667)" font-size="18" fill="#111" stroke="#111" stroke-width="0.3">13</text>
<text transform="translate(1548.35 804.53) scale(1.0815 1.0667)" font-size="18" fill="#111" stroke="#111" stroke-width="0.3">12:00 PM</text>
<text transform="translate(1739.26 804.80) scale(1.0750 1.0880)" font-size="18" fill="#111">1</text>
<text transform="translate(1304.02 517.40) scale(1.0400 1.0000)" font-size="11" fill="#222" stroke="#222" stroke-width="0.15">100.00% (1.037)</text>
<text transform="translate(1303.82 700.70) scale(1.0425 1.0000)" font-size="11" fill="#222" stroke="#222" stroke-width="0.15">161.80% (0.909)</text>
<text transform="translate(1297.49 719.60) scale(1.1246 1.0000)" font-size="15" fill="#222">Invalidation level</text>
<text transform="translate(1457.91 693.00) scale(0.9778 1.0000)" font-size="20" fill="#000" stroke="#000" stroke-width="0.3">Turning Up</text>
<text transform="translate(1652.70 681.16) scale(1.2000 0.9778)" font-size="12.5" font-weight="bold" fill="#111" letter-spacing="0.146">0.911</text>
<text transform="translate(32.94 843.70) scale(1.0234 1.0000)" font-size="12.5" fill="#2a2e39">TradingView</text>
<text transform="translate(1250.67 848.00) scale(1.0671 1.0000)" font-size="18" font-weight="bold" fill="#000" filter="url(#sh)">EWF Group 2 London Updated 12.12.2024 11:00 GMT</text>
<text transform="translate(179.10 645.90) scale(1.1000 1.0000)" font-size="12" fill="#000" letter-spacing="0.562" stroke="#000" stroke-width="0.15">We prefer to trade only in direction of Green/Red</text>
<text transform="translate(178.28 660.00) scale(1.1000 1.0000)" font-size="12" fill="#000" letter-spacing="0.424" stroke="#000" stroke-width="0.15">right side tags entering at Blue boxes. We don't</text>
<text transform="translate(178.28 673.80) scale(1.1000 1.0000)" font-size="12" fill="#000" letter-spacing="0.490" stroke="#000" stroke-width="0.15">like trading Turning up/down arrows or against</text>
<text transform="translate(178.82 687.90) scale(1.1000 1.0000)" font-size="12" fill="#000" letter-spacing="0.490" stroke="#000" stroke-width="0.15">the direction of Right side tags and we don't like</text>
<text transform="translate(178.82 701.60) scale(1.1000 1.0000)" font-size="12" fill="#000" letter-spacing="0.661" stroke="#000" stroke-width="0.15">trading the dotted lines.</text>
</svg></body></html>
